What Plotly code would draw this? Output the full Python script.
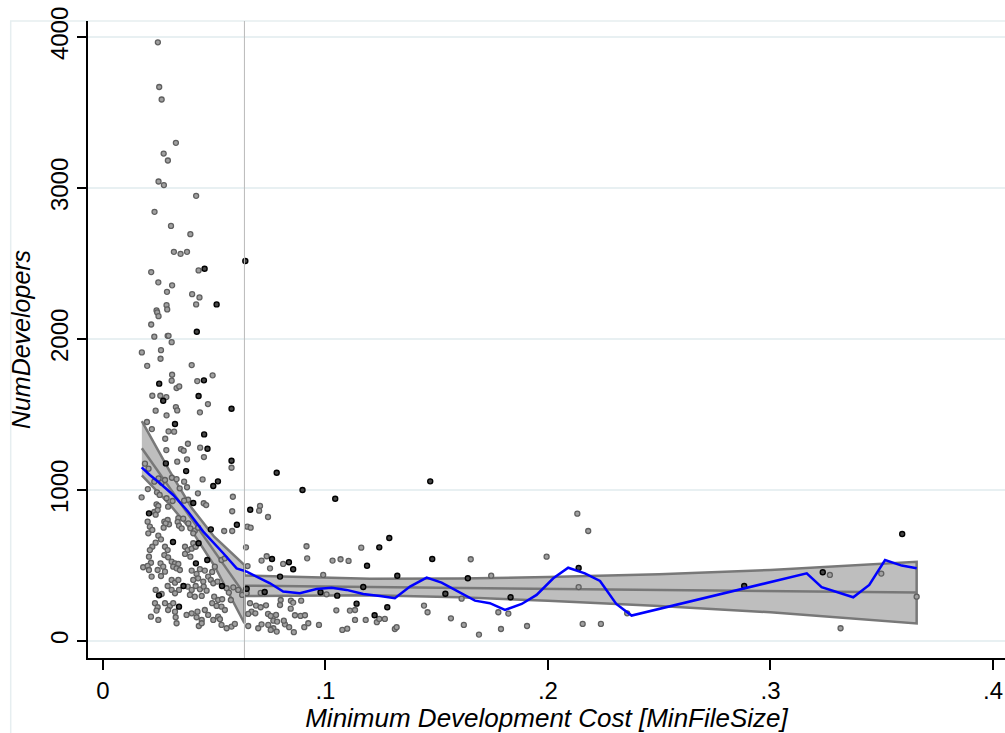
import plotly.graph_objects as go

# ---------------- data ----------------
grey_x = [0.0247,0.0253,0.0264,0.0328,0.0273,0.0292,0.0250,0.0274,0.0419,0.0232,0.0306,0.0393,0.0319,0.0349,0.0378,0.0217,0.0430,0.0249,0.0311,0.0288,0.0401,0.0434,0.0286,0.0419,0.0289,0.0241,0.0244,0.0250,0.0217,0.0231,0.0291,0.0295,0.0309,0.0175,0.0261,0.0259,0.0199,0.0399,0.0311,0.0493,0.0309,0.0424,0.0331,0.0343,
          0.0222,0.0258,0.0285,0.0472,0.0328,0.0334,0.0237,0.0436,0.0286,0.0198,0.0220,0.0295,0.0320,0.0280,0.0382,0.0437,0.0285,0.0351,0.0363,0.0454,0.0378,0.0334,0.0578,0.0189,0.0205,0.0448,0.0250,0.0231,0.0264,0.0279,0.0310,0.0331,0.0365,0.0202,0.0345,0.0378,0.0174,0.0243,0.0255,0.0286,0.0427,0.0584,0.0453,0.0464,0.0383,0.0365,0.0313,0.0241,0.0249,0.0293,
          0.0581,0.0231,0.0246,0.0237,0.0201,0.0211,0.0222,0.0204,0.0276,0.0291,0.0297,0.0282,0.0273,0.0339,0.0361,0.0336,0.0342,0.0354,0.0384,0.0393,0.0413,0.0428,0.0406,0.0545,0.0581,
          0.0249,0.0261,0.0237,0.0222,0.0211,0.0207,0.0216,0.0279,0.0291,0.0276,0.0293,0.0369,0.0381,0.0399,0.0406,0.0417,0.0369,0.0393,0.0309,0.0324,0.0339,0.0316,0.0331,0.0346,0.0181,0.0201,0.0259,0.0271,0.0246,0.0279,0.0261,0.0207,0.0219,0.0399,0.0421,0.0436,0.0458,0.0406,0.0428,0.0451,0.0473,0.0491,0.0503,0.0533,0.0548,0.0485,0.0496,0.0515,0.0309,0.0324,0.0339,0.0291,0.0309,0.0342,0.0324,0.0237,0.0264,0.0381,0.0399,0.0417,0.0436,0.0453,0.0466,0.0391,0.0413,0.0444,0.0556,0.0566,0.0586,0.0608,0.0626,0.0646,0.0575,0.0500,0.0518,0.0536,0.0491,0.0511,0.0533,0.0548,0.0234,0.0246,0.0279,0.0301,0.0316,0.0293,0.0324,0.0241,0.0216,0.0249,0.0327,0.0331,0.0376,0.0399,0.0421,0.0444,0.0425,0.0458,0.0473,0.0496,0.0518,0.0431,0.0444,0.0533,0.0556,0.0578,0.0593,0.0526,
          0.0706,0.0702,0.0742,0.0649,0.0664,0.0643,0.0915,0.0918,0.0736,0.0713,0.0751,0.0810,0.0990,0.1032,0.1068,0.1104,0.1161,0.0650,0.0709,0.1005,0.0661,0.0688,0.0709,0.0733,0.0668,0.0685,0.0653,0.0742,0.0754,0.0778,0.0766,0.0783,0.0799,0.0796,0.0845,0.0855,0.0891,0.0844,0.0863,0.0888,0.0908,0.0923,0.0905,0.0971,0.0653,0.0698,0.0713,0.0743,0.0766,0.0754,0.0781,0.0818,0.0837,0.0858,0.0813,0.1049,0.1110,0.1133,0.1076,0.1098,0.1133,0.1181,0.1231,0.1242,0.1267,
          0.1653,0.1745,0.1994,0.2132,0.2181,0.2138,0.1612,0.1312,0.1320,0.1443,0.1459,0.1564,0.1622,0.1690,0.1777,0.1822,0.1789,0.1906,0.2156,0.2238,0.2356,0.3267,0.3315,0.3498,0.3657]
grey_y = [3965,3669,3586,3299,3228,3182,3043,3019,2948,2842,2749,2694,2577,2564,2577,2443,2454,2375,2355,2312,2297,2275,2224,2229,2196,2189,2176,2151,2096,2015,2021,2021,1979,1911,1926,1869,1822,1827,1763,1759,1724,1721,1675,1686,
          1624,1624,1615,1569,1549,1527,1525,1514,1494,1450,1403,1388,1386,1339,1306,1280,1264,1271,1260,1218,1203,1187,1147,1174,1141,1070,1077,1055,1048,1066,1081,1072,1055,1006,1011,1018,951,984,967,945,978,955,912,900,935,929,927,905,894,889,
          859,854,867,836,790,757,735,713,790,801,773,779,750,814,810,788,763,746,779,746,730,750,713,728,728,
          697,673,651,624,602,558,518,624,602,569,554,624,602,611,647,624,576,558,525,514,510,492,481,470,488,497,514,492,470,459,430,470,426,466,444,475,466,404,415,393,426,457,492,536,547,404,382,393,404,386,404,364,338,338,316,338,311,360,338,364,342,360,333,305,293,298,349,320,355,338,305,316,271,293,271,276,250,232,227,205,250,223,250,232,250,205,194,201,161,139,157,117,172,183,157,139,194,205,172,139,161,99,117,106,84,95,113,144,
          894,863,821,757,750,620,627,547,561,532,481,510,437,532,541,530,618,496,318,309,250,234,223,236,194,183,179,179,166,172,134,128,271,238,267,254,267,214,170,166,170,117,91,106,99,84,110,106,84,73,62,110,91,58,134,203,201,205,73,81,139,139,124,146,146,
          541,432,558,843,728,357,280,79,91,234,190,150,106,42,190,181,79,99,113,113,183,437,84,446,293]

black_x = [0.0640,0.0457,0.0511,0.0422,0.0253,0.0454,0.0271,0.0430,0.0578,0.0324,0.0455,0.0470,0.0578,0.0283,0.0374,0.0517,0.0496,0.0406,0.0662,0.0207,0.0485,0.0602,0.0315,0.0430,0.0469,0.0418,0.0535,0.0362,0.0252,0.0342,
           0.0781,0.0897,0.1044,0.0760,0.0836,0.0855,0.0796,0.1242,0.1187,0.1287,0.0646,0.0727,0.0978,0.1053,0.1170,0.1140,0.1221,0.1278,0.1471,0.1480,0.1323,0.1640,0.2138,0.1539,0.1832,0.2882,0.3235,0.3592]
black_y = [2516,2465,2229,2048,1704,1726,1591,1622,1538,1437,1368,1273,1193,1176,1125,1057,1026,914,869,845,739,770,655,647,536,514,364,364,302,227,
           1114,1000,942,543,521,475,426,620,498,682,346,324,322,300,357,247,170,223,1057,543,432,415,483,313,289,364,455,708]

# linear fit below cutoff
left_x = [0.0175, 0.030, 0.040, 0.050, 0.0636]
left_fit = [1276, 1014, 804, 595, 310]
left_hi = [1456, 1124, 879, 690, 503]
left_lo = [1096, 904, 729, 500, 117]

# linear fit above cutoff
right_x = [0.0636, 0.09, 0.12, 0.16, 0.20, 0.25, 0.30, 0.3657]
right_fit = [366, 362, 357, 351, 345, 337, 330, 320]
right_hi = [434, 422, 412, 413, 423, 442, 470, 524]
right_lo = [298, 302, 302, 289, 267, 232, 190, 116]

# local smoother
lw_x = [0.0174,0.0211,0.0256,0.0316,0.0383,0.0451,0.0541,0.0601,0.0646,0.0691,0.0751,0.0810,0.0885,0.0960,0.1028,0.1095,0.1170,0.1245,0.1312,0.1380,0.1455,0.1522,0.1604,0.1672,0.1739,0.1807,0.1882,0.1949,0.2024,0.2091,0.2166,0.2234,0.2307,0.2376,0.3163,0.3230,0.3372,0.3444,0.3515,0.3590,0.3657]
lw_y = [1150,1099,1044,967,856,724,581,481,459,426,382,327,316,344,353,338,311,298,283,360,419,386,320,267,250,205,245,305,415,485,448,397,245,168,448,356,289,371,536,499,481]

cutoff = 0.0636
x_ticks = [0, 0.1, 0.2, 0.3, 0.4]
x_ticktext = ["0", ".1", ".2", ".3", ".4"]
y_ticks = [0, 1000, 2000, 3000, 4000]

# ---------------- figure ----------------
BAND_FILL = "rgb(190,190,190)"
BAND_LINE = "rgb(120,120,120)"
FONT = "Liberation Sans, Arial, sans-serif"

fig = go.Figure()

for xs, hi, lo, fit in [(left_x, left_hi, left_lo, left_fit), (right_x, right_hi, right_lo, right_fit)]:
    fig.add_trace(go.Scatter(x=xs + xs[::-1], y=hi + lo[::-1], fill="toself",
                             fillcolor=BAND_FILL, line=dict(color=BAND_LINE, width=2.5),
                             mode="lines", hoverinfo="skip", showlegend=False))
    fig.add_trace(go.Scatter(x=xs, y=fit, mode="lines",
                             line=dict(color=BAND_LINE, width=2.5), showlegend=False))

fig.add_trace(go.Scatter(x=grey_x, y=grey_y, mode="markers", showlegend=False,
                         marker=dict(symbol="circle", size=5, color="rgb(160,160,160)",
                                     line=dict(color="rgb(95,95,95)", width=1.3))))
fig.add_trace(go.Scatter(x=black_x, y=black_y, mode="markers", showlegend=False,
                         marker=dict(symbol="circle", size=5, color="rgb(70,70,70)",
                                     line=dict(color="black", width=1.4))))
fig.add_trace(go.Scatter(x=lw_x, y=lw_y, mode="lines", showlegend=False,
                         line=dict(color="rgb(0,0,255)", width=2.5)))

fig.add_shape(type="line", xref="x", yref="paper", x0=cutoff, x1=cutoff, y0=0, y1=1,
              line=dict(color="rgb(185,185,185)", width=1))
# faint outer graph-region border
fig.add_shape(type="rect", xref="paper", yref="paper", x0=-0.0843, x1=1.2, y0=-0.6, y1=1.0,
              line=dict(color="rgb(230,238,240)", width=1.5), layer="below")

fig.update_layout(
    width=1005, height=733,
    margin=dict(l=88, r=0, t=21, b=75),
    paper_bgcolor="white", plot_bgcolor="white",
    font=dict(family=FONT, color="black"),
    xaxis=dict(range=[-0.0067, 0.4054], tickvals=x_ticks, ticktext=x_ticktext,
               ticks="outside", ticklen=10, tickwidth=1.5, tickcolor="black",
               showline=True, linecolor="black", linewidth=1.5,
               showgrid=False, zeroline=False, tickfont=dict(size=24),
               title=dict(text="<i>Minimum Development Cost [MinFileSize]</i>",
                          font=dict(size=26), standoff=3)),
    yaxis=dict(range=[-113, 4106], tickvals=y_ticks, tickangle=-90,
               ticks="outside", ticklen=9, tickwidth=1.5, tickcolor="black",
               showline=True, linecolor="black", linewidth=1.5,
               showgrid=True, gridcolor="rgb(232,240,242)", gridwidth=1.5,
               zeroline=False, tickfont=dict(size=24),
               title=dict(text="<i>NumDevelopers</i>", font=dict(size=25), standoff=8)),
)

fig.write_html("out.html")
